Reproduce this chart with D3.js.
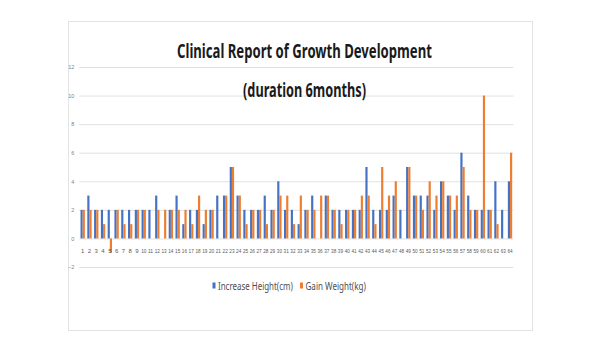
<!DOCTYPE html>
<html>
<head>
<meta charset="utf-8">
<script src="https://cdnjs.cloudflare.com/ajax/libs/d3/7.8.5/d3.min.js"></script>
<style>
  body { margin: 0; background: #fff; }
  svg { display: block; }
</style>
</head>
<body>
<div id="chart"></div>
<script>
// categories (patient numbers) and the two measured series
var categories = d3.range(1, 65).map(String);

var heightGain = [2, 3, 2, 2, 2, 2, 2, 2, 2, 2, 2, 3, 0, 2, 3, 1,
                  2, 2, 1, 2, 3, 3, 5, 3, 2, 2, 2, 3, 2, 4, 2, 2,
                  1, 2, 3, 0, 3, 2, 2, 2, 2, 2, 5, 2, 2, 2, 3, 2,
                  5, 3, 3, 3, 2, 4, 3, 2, 6, 3, 2, 2, 2, 4, 2, 4];

var weightGain = [2, 2, 2, 1, -1, 2, 1, 1, 2, 2, 0, 2, 2, 2, 2, 2,
                  1, 3, 2, 2, 0, 3, 5, 3, 1, 2, 2, 1, 2, 3, 3, 1,
                  3, 2, 2, 3, 3, 2, 1, 2, 2, 3, 3, 1, 5, 3, 4, 0,
                  5, 3, 2, 4, 3, 4, 3, 3, 5, 2, 2, 10, 2, 1, 0, 6];

var seriesNames = ["Increase Height(cm)", "Gain Weight(kg)"];
var seriesColors = ["#4472C4", "#ED7D31"];
var yTicks = [-2, 0, 2, 4, 6, 8, 10, 12];

var svgWidth = 600;
var svgHeight = 338;

var plot = { left: 79.3, right: 513.4, top: 67, bottom: 267 };

var svg = d3.select("#chart")
  .append("svg")
  .attr("width", svgWidth)
  .attr("height", svgHeight);

// squeeze a text horizontally to a given width, anchored at (x, y)
function narrowText(sel, x, y, width, anchor) {
  var natural = sel.node().getComputedTextLength();
  var k = width / natural;
  sel.attr("x", 0)
    .attr("y", 0)
    .attr("text-anchor", anchor)
    .attr("transform", `translate(${x}, ${y}) scale(${k}, 1)`);
}

// chart frame
svg.append("rect")
  .attr("x", 68.5)
  .attr("y", 21.5)
  .attr("width", 464)
  .attr("height", 309)
  .attr("fill", "#fff")
  .attr("stroke", "#e3e3e3")
  .attr("stroke-width", 1);

var xScale = d3.scaleBand()
  .domain(categories)
  .range([plot.left, plot.right])
  .paddingInner(0.36)
  .paddingOuter(0.18);

var xInner = d3.scaleBand()
  .domain([0, 1])
  .range([0, xScale.bandwidth()]);

var yScale = d3.scaleLinear()
  .domain([-2, 12])
  .range([plot.bottom, plot.top]);

// gridlines + y labels
var yAxis = svg.append("g")
  .attr("transform", `translate(${plot.left}, 0)`)
  .call(d3.axisLeft(yScale)
    .tickValues(yTicks)
    .tickSize(-(plot.right - plot.left))
    .tickPadding(5));

yAxis.select(".domain").remove();
yAxis.selectAll("line")
  .attr("stroke", "#d9d9d9")
  .attr("stroke-width", 0.8);
yAxis.selectAll("text")
  .attr("fill", "#7f7f7f")
  .style("font-family", "'Liberation Sans', sans-serif")
  .style("font-size", "5.5px");

// bars
var rows = categories.map(function(c, i) {
  return { cat: c, values: [heightGain[i], weightGain[i]] };
});

var groups = svg.append("g")
  .selectAll("g")
  .data(rows)
  .enter()
  .append("g")
  .attr("transform", d => `translate(${xScale(d.cat)}, 0)`);

groups.selectAll("rect")
  .data(d => d.values.map((v, k) => ({ k: k, v: v })))
  .enter()
  .append("rect")
  .attr("x", d => xInner(d.k))
  .attr("width", xInner.bandwidth())
  .attr("y", d => yScale(Math.max(0, d.v)))
  .attr("height", d => Math.abs(yScale(d.v) - yScale(0)))
  .attr("fill", d => seriesColors[d.k]);

// category labels, squeezed a little so two digits fit the band
var xAxis = svg.append("g")
  .attr("transform", `translate(0, ${yScale(0)})`)
  .call(d3.axisBottom(xScale).tickSize(0).tickPadding(10));

xAxis.select(".domain").remove();
xAxis.selectAll("text")
  .attr("fill", "#595959")
  .style("font-family", "'Liberation Sans', sans-serif")
  .style("font-size", "6px")
  .each(function(d) {
    if (d.length > 1) {
      d3.select(this)
        .attr("textLength", 5.2)
        .attr("lengthAdjust", "spacingAndGlyphs");
    }
  });

// title
var title1 = svg.append("text")
  .style("font-family", "'Noto Sans', sans-serif")
  .style("font-size", "20px")
  .style("font-weight", "bold")
  .attr("fill", "#1a1a1a")
  .text("Clinical Report of Growth Development");
narrowText(title1, 304.5, 58, 255, "middle");

var title2 = svg.append("text")
  .style("font-family", "'Noto Sans', sans-serif")
  .style("font-size", "20px")
  .style("font-weight", "bold")
  .attr("fill", "#1a1a1a")
  .text("(duration 6months)");
narrowText(title2, 304.5, 97, 123, "middle");

// legend
var legendItems = [
  { x: 212.5, tx: 218, len: 75 },
  { x: 300, tx: 305.5, len: 60.5 }
];

legendItems.forEach(function(item, i) {
  svg.append("rect")
    .attr("x", item.x)
    .attr("y", 282.5)
    .attr("width", 3)
    .attr("height", 6)
    .attr("fill", seriesColors[i]);

  var label = svg.append("text")
    .style("font-family", "'Noto Sans', sans-serif")
    .style("font-size", "10.5px")
    .attr("fill", "#4d4d4d")
    .text(seriesNames[i]);
  narrowText(label, item.tx, 290, item.len, "start");
});
</script>
</body>
</html>
